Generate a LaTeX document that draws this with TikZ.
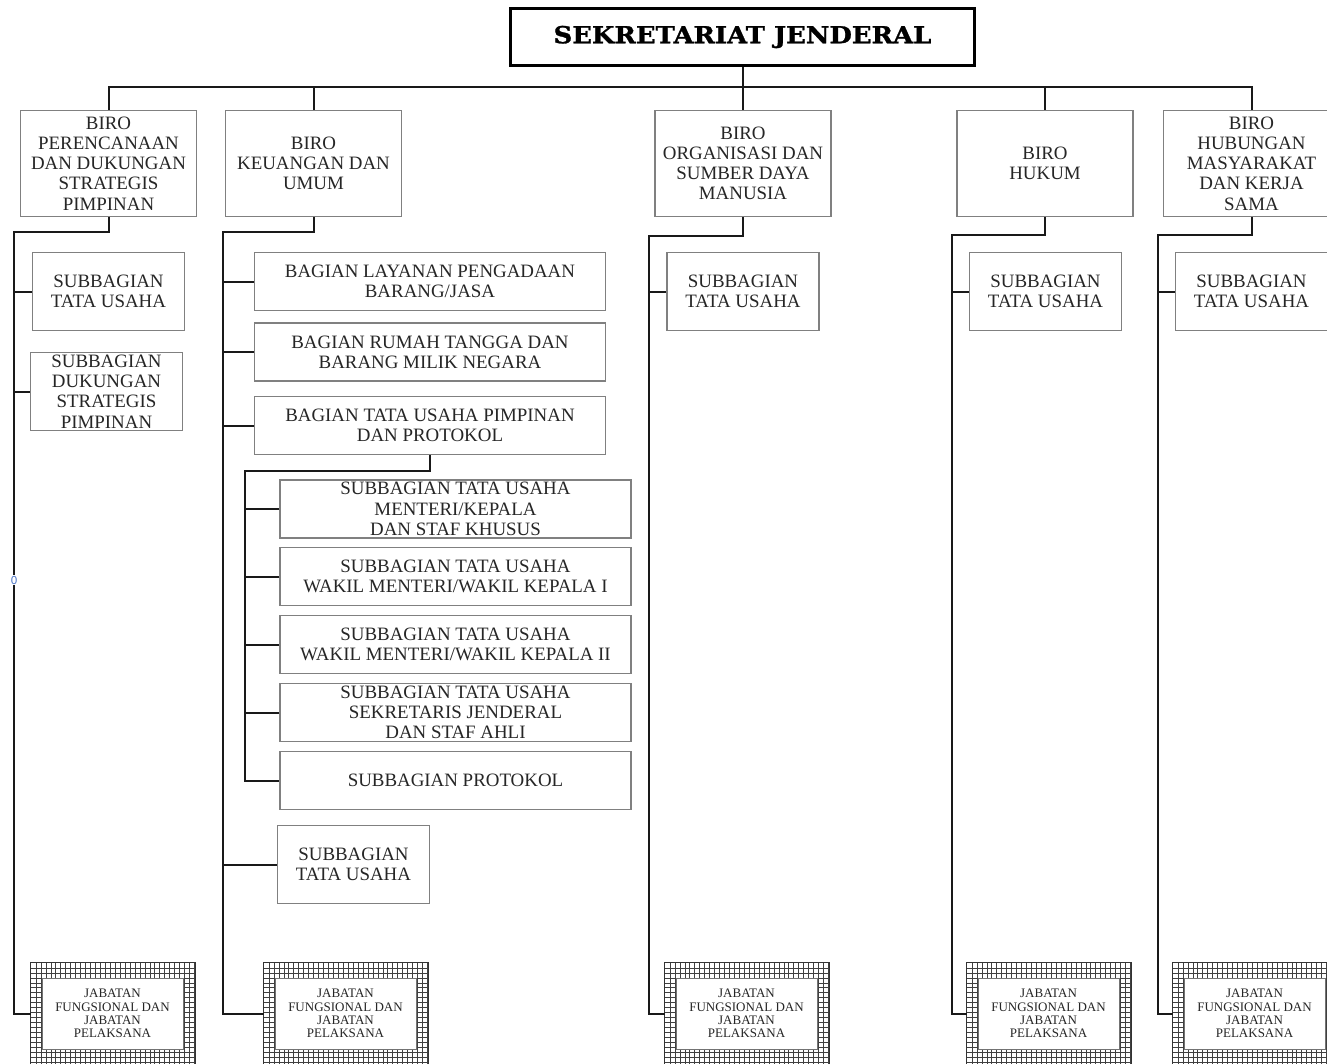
\documentclass[tikz,border=0pt]{standalone}
\usepackage{fontspec}
\setmainfont{Liberation Serif}
\newfontfamily\titlefont[FakeStretch=1.1,FakeBold=1.2]{DejaVu Serif}
\newfontfamily\zerofont{DejaVu Sans}
\definecolor{zeroblue}{RGB}{80,120,200}
\newcommand{\bodyfont}{\fontsize{18.9}{20.2}\selectfont}
\newcommand{\smallbodyfont}{\fontsize{13}{13.4}\selectfont}
\tikzset{
  conn/.style={line width=2pt, black!90},
  box/.style={draw=black!50, line width=1.3pt, fill=white, align=center, inner sep=1pt, font=\bodyfont, text=black!85},
  biro/.style={box, minimum width=176pt, minimum height=106pt},
  sub/.style={box, minimum width=152pt, minimum height=78pt},
  bag/.style={box, minimum width=351pt, minimum height=58pt},
  jabout/.style={inner sep=0pt, fill=white, minimum width=164pt, minimum height=101pt},
  gridl/.style={line width=0.55pt, black!75},
  jabframe/.style={line width=1pt, black!80},
  jabin/.style={draw=black!55, line width=1pt, fill=white, align=center, inner sep=0pt, minimum width=141pt, minimum height=71pt, font=\smallbodyfont, text=black!85},
}
\newcommand{\jabbox}[2]{%
  \node[jabout] (#1) at ({#2+82},1013.5) {};
  \begin{scope}
    \clip (#1.south west) rectangle (#1.north east);
    \foreach \i in {1,...,33} \draw[gridl] ({#2+\i*4.95},963) -- ++(0,101);
    \foreach \j in {1,...,20} \draw[gridl] (#2,{963+\j*4.95}) -- ++(164,0);
  \end{scope}
  \draw[jabframe] (#1.south west) rectangle (#1.north east);
  \node[jabin] (#1in) at ({#2+81.5},1013.5) {JABATAN\\FUNGSIONAL DAN\\JABATAN\\PELAKSANA};
}
\begin{document}
\begin{tikzpicture}[x=1pt,y=-1pt]
\useasboundingbox (0,0) rectangle (1327,1063);
\clip (0,0) rectangle (1327,1063);
\fill[white] (0,0) rectangle (1327,1063);

% title
\node[draw=black, line width=3pt, minimum width=464pt, minimum height=57pt, inner sep=0pt, font={\titlefont\bfseries\fontsize{23.5}{25}\selectfont}, text=black] (title) at (742.5,37) {SEKRETARIAT JENDERAL};

% biro boxes
\node[biro] (b1) at (108.5,163.5) {BIRO\\PERENCANAAN\\DAN DUKUNGAN\\STRATEGIS\\PIMPINAN};
\node[biro] (b2) at (313.5,163.5) {BIRO\\KEUANGAN DAN\\UMUM};
\node[biro] (b3) at (743,163.5) {BIRO\\ORGANISASI DAN\\SUMBER DAYA\\MANUSIA};
\node[biro] (b4) at (1045,163.5) {BIRO\\HUKUM};
\node[biro] (b5) at (1251.5,163.5) {BIRO\\HUBUNGAN\\MASYARAKAT\\DAN KERJA\\SAMA};

% bus
\coordinate (bus) at (742.5,87);
\draw[conn] (b1.north) |- (bus) -| (b5.north);
\draw[conn] (title.south) -- (title.south |- b3.north);
\draw[conn] (b2.north) -- (b2.north |- bus);
\draw[conn] (b4.north) -- (b4.north |- bus);

% spines
\coordinate (s1) at (14,232);
\coordinate (s2) at (223,232);
\coordinate (s3) at (649,236);
\coordinate (s4) at (952,235);
\coordinate (s5) at (1158,235);

% biro 1 children
\node[sub] (sa1) at (108.5,291.5) {SUBBAGIAN\\TATA USAHA};
\node[sub] (sd1) at (106.5,391.5) {SUBBAGIAN\\DUKUNGAN\\STRATEGIS\\PIMPINAN};

% biro 2 children
\node[bag] (bl1) at (430,281.5) {BAGIAN LAYANAN PENGADAAN\\BARANG/JASA};
\node[bag] (bl2) at (430,352) {BAGIAN RUMAH TANGGA DAN\\BARANG MILIK NEGARA};
\node[bag] (bl3) at (430,425.5) {BAGIAN TATA USAHA PIMPINAN\\DAN PROTOKOL};
\node[bag] (sm) at (455.5,509) {SUBBAGIAN TATA USAHA\\MENTERI/KEPALA\\DAN STAF KHUSUS};
\node[bag] (sw1) at (455.5,576.5) {SUBBAGIAN TATA USAHA\\WAKIL MENTERI/WAKIL KEPALA I};
\node[bag] (sw2) at (455.5,644.5) {SUBBAGIAN TATA USAHA\\WAKIL MENTERI/WAKIL KEPALA II};
\node[bag] (ss) at (455.5,712.5) {SUBBAGIAN TATA USAHA\\SEKRETARIS JENDERAL\\DAN STAF AHLI};
\node[bag] (sp) at (455.5,780.5) {SUBBAGIAN PROTOKOL};
\node[sub] (st2) at (353.5,864.5) {SUBBAGIAN\\TATA USAHA};
\coordinate (s2b) at (245,471);

% biro 3,4,5 children
\node[sub] (st3) at (743,291.5) {SUBBAGIAN\\TATA USAHA};
\node[sub] (st4) at (1045.5,291.5) {SUBBAGIAN\\TATA USAHA};
\node[sub] (st5) at (1251.5,291.5) {SUBBAGIAN\\TATA USAHA};

% jabatan boxes
\jabbox{j1}{31}
\jabbox{j2}{264}
\jabbox{j3}{665}
\jabbox{j4}{967}
\jabbox{j5}{1173}

% connectors biro 1
\draw[conn] (b1.south) |- (s1) |- (j1.west);
\draw[conn] (sa1.west) -- (sa1.west -| s1);
\draw[conn] (sd1.west) -- (sd1.west -| s1);

% connectors biro 2
\draw[conn] (b2.south) |- (s2) |- (j2.west);
\draw[conn] (bl1.west) -- (bl1.west -| s2);
\draw[conn] (bl2.west) -- (bl2.west -| s2);
\draw[conn] (bl3.west) -- (bl3.west -| s2);
\draw[conn] (st2.west) -- (st2.west -| s2);
\draw[conn] (bl3.south) |- (s2b) |- (sp.west);
\draw[conn] (sm.west) -- (sm.west -| s2b);
\draw[conn] (sw1.west) -- (sw1.west -| s2b);
\draw[conn] (sw2.west) -- (sw2.west -| s2b);
\draw[conn] (ss.west) -- (ss.west -| s2b);

% connectors biro 3-5
\draw[conn] (b3.south) |- (s3) |- (j3.west);
\draw[conn] (st3.west) -- (st3.west -| s3);
\draw[conn] (b4.south) |- (s4) |- (j4.west);
\draw[conn] (st4.west) -- (st4.west -| s4);
\draw[conn] (b5.south) |- (s5) |- (j5.west);
\draw[conn] (st5.west) -- (st5.west -| s5);

% stray label
\node[font={\zerofont\fontsize{11}{11}\selectfont}, text=zeroblue, fill=white, inner sep=0.5pt] (zero) at (14,580) {0};
\end{tikzpicture}
\end{document}
